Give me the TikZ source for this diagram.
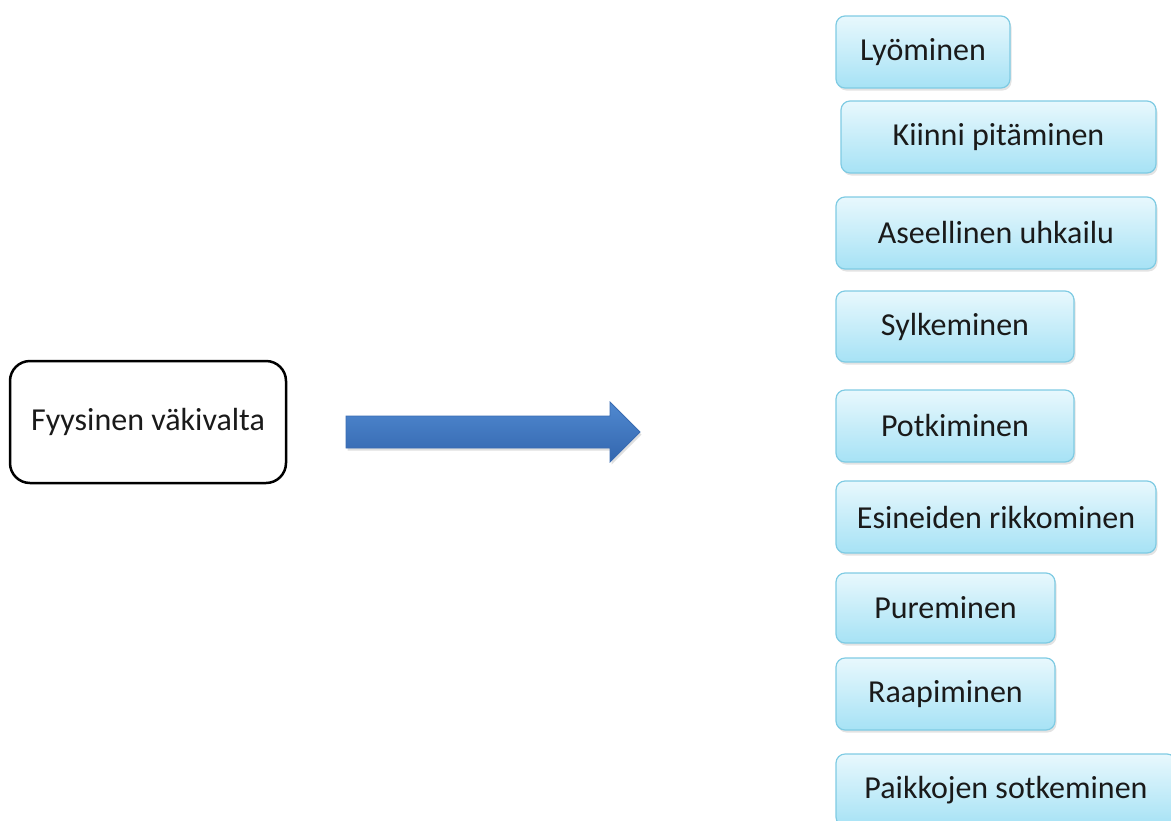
\documentclass[tikz,border=0pt]{standalone}
\usepackage{fontspec}
\setmainfont{Carlito}
\usetikzlibrary{shadows}
\definecolor{boxtop}{HTML}{E8F8FD}
\definecolor{boxbot}{HTML}{A6E2F5}
\definecolor{boxedge}{HTML}{7FCBE3}
\definecolor{arrtop}{HTML}{5089D0}
\definecolor{arrbot}{HTML}{3366AE}
\definecolor{arredge}{HTML}{3A6CB2}
\definecolor{txt}{HTML}{1A1A1A}
\tikzset{
  bbox/.style={draw=boxedge, line width=1.2pt, rounded corners=9pt,
    top color=boxtop, bottom color=boxbot, text=txt,
    font=\fontsize{32}{38}\selectfont, inner sep=0pt,
    drop shadow={opacity=0.22, shadow xshift=1.5pt, shadow yshift=-2.5pt}},
  mainbox/.style={draw=black, line width=2.5pt, rounded corners=20pt, fill=white,
    text=txt, font=\fontsize{32}{38}\selectfont, inner sep=0pt,
    minimum width=276pt, minimum height=122pt},
  bigarrow/.style={draw=arredge, line width=0.8pt,
    top color=arrtop, bottom color=arrbot,
    drop shadow={opacity=0.25, shadow xshift=1.5pt, shadow yshift=-2.5pt}}
}
\begin{document}
\begin{tikzpicture}[x=1pt,y=-1pt]
\useasboundingbox (0,0) rectangle (1171,820);
\clip (0,0) rectangle (1171,820);
\node[mainbox] (main) at (148,422) {Fyysinen väkivalta};
\path[bigarrow] (346,416) -- (610,416) -- (610,402) -- (640,432) -- (610,462)
  -- (610,448) -- (346,448) -- cycle;
\node[bbox, minimum width=174pt, minimum height=72pt] (b1) at (923,52) {Lyöminen};
\node[bbox, minimum width=315pt, minimum height=72pt] (b2) at (998.5,137) {Kiinni pitäminen};
\node[bbox, minimum width=320pt, minimum height=72pt] (b3) at (996,233) {Aseellinen uhkailu};
\node[bbox, minimum width=238pt, minimum height=71pt] (b4) at (955,326.5) {Sylkeminen};
\node[bbox, minimum width=238pt, minimum height=72pt] (b5) at (955,426) {Potkiminen};
\node[bbox, minimum width=320pt, minimum height=72pt] (b6) at (996,517) {Esineiden rikkominen};
\node[bbox, minimum width=219pt, minimum height=70pt] (b7) at (945.5,608) {Pureminen};
\node[bbox, minimum width=219pt, minimum height=72pt] (b8) at (945.5,694) {Raapiminen};
\node[bbox, minimum width=340pt, minimum height=72pt] (b9) at (1006,790) {Paikkojen sotkeminen};
\end{tikzpicture}
\end{document}
